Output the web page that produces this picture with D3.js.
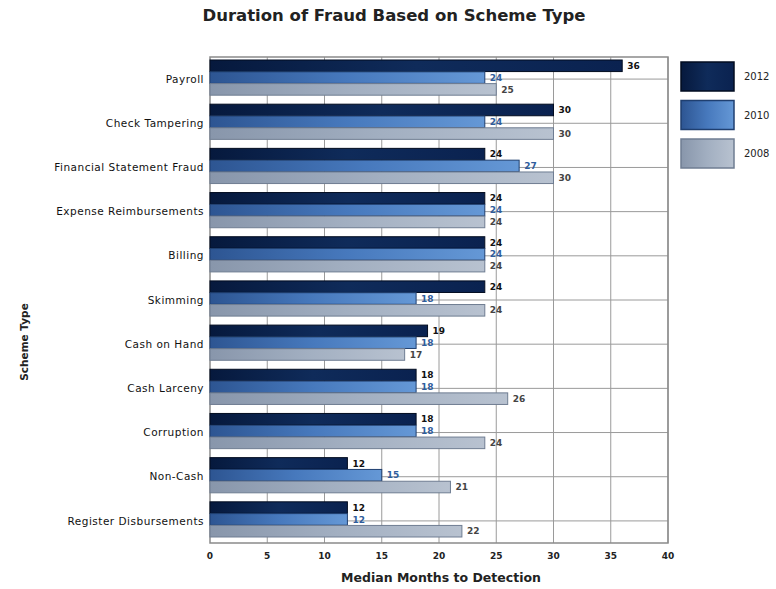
<!DOCTYPE html>
<html>
<head>
<meta charset="utf-8">
<script src="https://cdn.jsdelivr.net/npm/d3@7"></script>
<style>
	body { margin: 0; background: #fff; }
</style>
</head>
<body>
<svg width="776" height="589"></svg>
<script>
const categories = [
	"Payroll", "Check Tampering", "Financial Statement Fraud", "Expense Reimbursements",
	"Billing", "Skimming", "Cash on Hand", "Cash Larceny", "Corruption", "Non-Cash",
	"Register Disbursements"
];
const years = ["2012", "2010", "2008"];
const values2012 = [36, 30, 24, 24, 24, 24, 19, 18, 18, 12, 12];
const values2010 = [24, 24, 27, 24, 24, 18, 18, 18, 18, 15, 12];
const values2008 = [25, 30, 30, 24, 24, 24, 17, 26, 24, 21, 22];
const xTicks = [0, 5, 10, 15, 20, 25, 30, 35, 40];

const series = [values2012, values2010, values2008];

const svg = d3.select("svg").style("font-family", "'DejaVu Sans', sans-serif");
const margin = { top: 57, right: 108, bottom: 46, left: 210 };
const width = +svg.attr("width");
const height = +svg.attr("height");

const x = d3.scaleLinear().domain([0, 40]).range([margin.left, width - margin.right]);
const y = d3.scaleBand().domain(categories).range([margin.top, height - margin.bottom]);
const yInner = d3.scaleBand().domain(years).range([3, y.bandwidth() - 6]).paddingInner(0.02);

// gradients
const defs = svg.append("defs");
const grads = {
	"2012": ["#06193d", "#0f2b5a", "#0a2250"],
	"2010": ["#2d5592", "#4779bd", "#6598d6"],
	"2008": ["#8896ab", "#a2afc1", "#b8c2d0"]
};
years.forEach(yr => {
	const g = defs.append("linearGradient").attr("id", "g" + yr)
		.attr("x1", 0).attr("x2", 1).attr("y1", 0).attr("y2", 0);
	grads[yr].forEach((c, i) => g.append("stop").attr("offset", i / 2).attr("stop-color", c));
});
const edge = { "2012": "#020c20", "2010": "#1f3f70", "2008": "#6f7d92" };
const labelColor = { "2012": "#111", "2010": "#2f5d9c", "2008": "#444" };

// grid
const grid = svg.append("g").attr("stroke", "#9a9a9a").attr("stroke-width", 1);
grid.selectAll("line.v").data(xTicks.slice(1))
	.join("line")
	.attr("x1", d => x(d)).attr("x2", d => x(d))
	.attr("y1", margin.top).attr("y2", height - margin.bottom);
grid.selectAll("line.h").data(categories)
	.join("line")
	.attr("x1", margin.left).attr("x2", width - margin.right)
	.attr("y1", d => y(d) + y.bandwidth() / 2).attr("y2", d => y(d) + y.bandwidth() / 2);

svg.append("rect")
	.attr("x", margin.left).attr("y", margin.top)
	.attr("width", x(40) - margin.left).attr("height", height - margin.bottom - margin.top)
	.attr("fill", "none").attr("stroke", "#8a8a8a").attr("stroke-width", 1.5);

// bars
const groups = svg.append("g").selectAll("g")
	.data(categories)
	.join("g")
	.attr("transform", d => `translate(0,${y(d)})`);

years.forEach((yr, si) => {
	groups.append("rect")
		.attr("x", x(0))
		.attr("y", yInner(yr))
		.attr("width", (d, i) => x(series[si][i]) - x(0))
		.attr("height", yInner.bandwidth())
		.attr("fill", `url(#g${yr})`)
		.attr("stroke", edge[yr]).attr("stroke-width", 1);
});

// value labels
years.forEach((yr, si) => {
	groups.append("text")
		.attr("x", (d, i) => x(series[si][i]) + 5)
		.attr("y", yInner(yr) + yInner.bandwidth() / 2)
		.attr("dy", "0.35em")
		.attr("font-size", 9).attr("font-weight", "bold")
		.attr("fill", labelColor[yr])
		.text((d, i) => series[si][i]);
});

// category labels
svg.append("g").selectAll("text")
	.data(categories)
	.join("text")
	.attr("x", margin.left - 6)
	.attr("y", d => y(d) + y.bandwidth() / 2)
	.attr("dy", "0.35em")
	.attr("text-anchor", "end")
	.attr("font-size", 10.5)
	.attr("letter-spacing", 0.5)
	.attr("fill", "#111")
	.text(d => d);

// x tick labels
svg.append("g").selectAll("text")
	.data(xTicks)
	.join("text")
	.attr("x", d => x(d))
	.attr("y", height - margin.bottom + 13)
	.attr("dy", "0.35em")
	.attr("text-anchor", "middle")
	.attr("font-size", 9).attr("font-weight", "bold")
	.attr("fill", "#222")
	.text(d => d);

// titles
svg.append("text")
	.attr("x", 394).attr("y", 15).attr("dy", "0.35em")
	.attr("text-anchor", "middle")
	.attr("font-size", 16.5).attr("font-weight", "bold")
	.attr("fill", "#222")
	.text("Duration of Fraud Based on Scheme Type");

svg.append("text")
	.attr("x", 441).attr("y", 578).attr("dy", "0.35em")
	.attr("text-anchor", "middle")
	.attr("font-size", 12.5).attr("font-weight", "bold")
	.attr("fill", "#222")
	.text("Median Months to Detection");

svg.append("text")
	.attr("transform", "translate(24,342) rotate(-90)")
	.attr("dy", "0.35em")
	.attr("text-anchor", "middle")
	.attr("font-size", 10.5).attr("font-weight", "bold")
	.attr("fill", "#222")
	.text("Scheme Type");

// legend
const legend = svg.append("g").selectAll("g")
	.data(years)
	.join("g")
	.attr("transform", (d, i) => `translate(681,${62 + i * 38.5})`);
legend.append("rect")
	.attr("width", 53).attr("height", 29)
	.attr("fill", d => `url(#g${d})`)
	.attr("stroke", d => edge[d]).attr("stroke-width", 1.5);
legend.append("text")
	.attr("x", 63).attr("y", 14.5).attr("dy", "0.35em")
	.attr("font-size", 10)
	.attr("fill", "#222")
	.text(d => d);
</script>
</body>
</html>
